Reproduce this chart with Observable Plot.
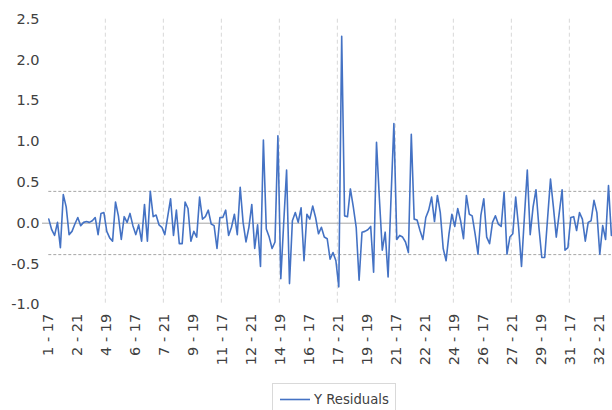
<!DOCTYPE html>
<html>
<head>
<meta charset="utf-8">
<script src="https://cdn.jsdelivr.net/npm/d3@7"></script>
<script src="https://cdn.jsdelivr.net/npm/@observablehq/plot@0.6"></script>
<style>
  body { margin: 0; background: #fff; }
  #wrap { position: relative; width: 612px; height: 410px; overflow: hidden; font-family: "DejaVu Sans", sans-serif; }
  #legend { position: absolute; left: 272px; top: 383px; width: 124px; height: 40px; border: 1px solid #d9d9d9; box-sizing: border-box; background: #fff; }
  #legend svg { position: absolute; left: 0; top: 0; }
</style>
</head>
<body>
<div id="wrap">
  <div id="chart"></div>
  <div id="legend"><svg width="124" height="30">
    <line x1="7" x2="37" y1="15.5" y2="15.5" stroke="#4472c4" stroke-width="1.6"></line>
    <text x="41" y="20" font-family="DejaVu Sans" font-size="13.2px" fill="#404040">Y Residuals</text>
  </svg></div>
</div>
<script>
// Category structure: group - age
const groups = [1,2,3,4,5,6,7,8,9,10,11,12,13,14,15,16,17,18,19,20,21,22,23,24,25,26,27,28,29,30,31,32,33];
const ages = [17,18,19,20,21,22];

// Y residuals (one per category, in order)
const residuals = [
  0.05,-0.08,-0.15,0.01,-0.30,0.35,0.20,-0.14,-0.10,-0.01,
  0.07,-0.03,0.01,0.02,0.01,0.03,0.07,-0.14,0.12,0.13,
  -0.10,-0.18,-0.22,0.26,0.09,-0.20,0.08,0.01,0.12,-0.03,
  -0.14,-0.02,-0.22,0.23,-0.22,0.39,0.08,0.10,-0.02,-0.05,
  -0.14,0.08,0.30,-0.15,0.16,-0.25,-0.25,0.26,0.18,-0.22,
  -0.10,-0.17,0.32,0.05,0.08,0.16,-0.01,-0.03,-0.31,0.07,
  0.07,0.16,-0.15,-0.05,0.11,-0.14,0.44,0.01,-0.23,-0.05,
  0.23,-0.31,-0.02,-0.53,1.02,-0.07,-0.17,-0.31,-0.23,1.07,
  -0.68,0.00,0.65,-0.74,0.03,0.13,0.01,0.19,-0.46,0.11,
  0.05,0.21,0.07,-0.13,-0.05,-0.17,-0.19,-0.44,-0.36,-0.46,
  -0.78,2.29,0.09,0.08,0.42,0.20,-0.05,-0.70,-0.11,-0.10,
  -0.08,-0.04,-0.60,0.99,0.30,-0.33,-0.11,-0.66,0.30,1.22,
  -0.20,-0.15,-0.17,-0.23,-0.36,1.09,0.05,0.04,-0.09,-0.20,
  0.07,0.16,0.32,0.02,0.34,0.13,-0.31,-0.46,-0.13,0.11,
  -0.04,0.18,0.03,-0.19,0.34,0.11,0.09,-0.13,-0.38,0.10,
  0.30,-0.17,-0.25,0.01,0.09,-0.01,-0.04,0.38,-0.38,-0.17,
  -0.13,0.32,-0.05,-0.53,0.08,0.65,-0.14,0.20,0.41,-0.05,
  -0.42,-0.42,0.06,0.54,0.20,-0.17,0.12,0.41,-0.33,-0.30,
  0.07,0.08,-0.09,0.13,0.05,-0.22,0.01,0.03,0.28,0.13,
  -0.38,-0.03,-0.20,0.46,-0.15
];

// Control limits (dashed lines)
const limits = [0.39, -0.385];

// Axis tick labels
const tickLabels = ["1 - 17","2 - 21","4 - 19","6 - 17","7 - 21","9 - 19","11 - 17","12 - 21","14 - 19","16 - 17",
                    "17 - 21","19 - 19","21 - 17","22 - 21","24 - 19","26 - 17","27 - 21","29 - 19","31 - 17","32 - 21"];
const yTicks = [-1.0,-0.5,0.0,0.5,1.0,1.5,2.0,2.5];

const categories = groups.flatMap(g => ages.map(a => `${g} - ${a}`)).slice(0, residuals.length);
const data = residuals.map((v, i) => ({i, cat: categories[i], v}));
const tickIndex = tickLabels.map(l => categories.indexOf(l));
const gridIndex = tickIndex.filter((_, k) => k > 0 && k % 2 === 0).map(i => i - 0.5);
const lastIndex = residuals.length - 1;

const chart = Plot.plot({
  width: 612,
  height: 410,
  marginLeft: 42,
  marginRight: 0,
  marginTop: 18.7,
  marginBottom: 105.7,
  style: {fontFamily: "DejaVu Sans", fontSize: "14.5px", color: "#404040", background: "#fff", overflow: "visible"},
  x: {
    type: "linear",
    domain: [-2.17, 194.38],
    ticks: tickIndex,
    tickFormat: i => categories[i],
    tickRotate: -90,
    tickSize: 0,
    tickPadding: 9,
    label: null
  },
  y: {
    domain: [-1, 2.5],
    ticks: yTicks,
    tickFormat: d => d.toFixed(1),
    tickSize: 0,
    tickPadding: 3,
    label: null
  },
  marks: [
    Plot.ruleX(gridIndex, {x: d => d, stroke: "#d9d9d9", strokeWidth: 1, strokeDasharray: "4,3"}),
    Plot.ruleY([0], {stroke: "#a6a6a6", strokeWidth: 1}),
    Plot.ruleY(limits, {y: d => d, x1: 0, x2: lastIndex, stroke: "#a6a6a6", strokeWidth: 1, strokeDasharray: "3,2"}),
    Plot.line(data, {x: "i", y: "v", stroke: "#4472c4", strokeWidth: 1.6})
  ]
});
document.getElementById("chart").appendChild(chart);
</script>
</body>
</html>
